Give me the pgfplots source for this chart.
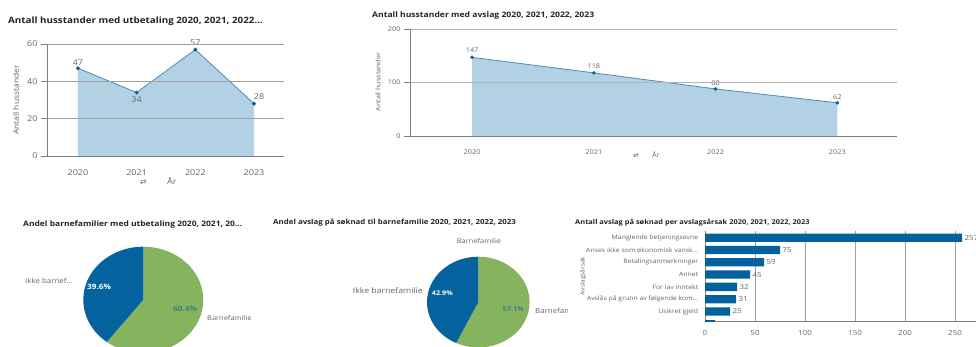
\documentclass[border=0pt]{standalone}
\usepackage{pgfplots}
\pgfplotsset{compat=1.18}
\usepackage{fontspec}
\setmainfont{Open Sans}[FakeStretch=1.13]
\newfontfamily\symfont{DejaVu Sans}[FakeStretch=1.13]
\newcommand\fs[1]{\fontsize{#1}{#1}\selectfont}
\definecolor{fillb}{HTML}{B3D1E4}
\definecolor{lineb}{HTML}{4A8DB8}
\definecolor{markb}{HTML}{135C8E}
\definecolor{pieblue}{HTML}{04629F}
\definecolor{piegreen}{HTML}{86B45E}
\definecolor{barblue}{HTML}{03629C}
\definecolor{txt}{HTML}{666666}
\definecolor{ttl}{HTML}{252423}
\definecolor{gridc}{HTML}{A0A0A0}
\definecolor{axc}{HTML}{808080}
\definecolor{tealt}{HTML}{3A7F86}
\pgfplotsset{
  lineax/.style={scale only axis, anchor=south west, axis on top,
    axis x line*=bottom, axis y line*=left,
    axis line style={draw=axc, -, line width=0.7pt},
    ymajorgrids, major grid style={draw=gridc, line width=0.6pt},
    xtick style={draw=none}, ytick style={draw=axc, line width=0.6pt},
    tick align=outside, major tick length=6pt,
    /pgf/number format/assume math mode=true, clip=false},
}
\begin{document}
\begin{tikzpicture}
\clip (0,0) rectangle (976pt,347pt);
\fill[white] (0,0) rectangle (976pt,347pt);

% ---------- Chart 1 ----------
\begin{axis}[lineax, at={(47pt,191pt)}, width=237pt, height=112pt,
  xmin=2019.472, xmax=2023.511, ymin=0, ymax=60,
  xtick={2020,2021,2022,2023}, xticklabels={2020,2021,2022,2023},
  ytick={0,20,40,60}, yticklabels={0,20,40,60},
  xticklabel style={font=\fs{8}, text=txt, anchor=base, yshift=-14pt},
  yticklabel style={font=\fs{8}, text=txt, anchor=east}]
\addplot[fill=fillb, draw=none] coordinates {(2020,47)(2021,34)(2022,57)(2023,28)} \closedcycle;
\addplot[lineb, line width=0.8pt, mark=*, mark size=1.5pt, mark options={fill=markb, draw=markb}]
  coordinates {(2020,47)(2021,34)(2022,57)(2023,28)};
\node[font=\fs{8}, text=txt, anchor=base, yshift=3.2pt] at (axis cs:2020,47) {47};
\node[font=\fs{8}, text=txt, anchor=base, yshift=-10.4pt] at (axis cs:2021,34) {34};
\node[font=\fs{8}, text=txt, anchor=base, yshift=3.7pt] at (axis cs:2022,57) {57};
\node[font=\fs{8}, text=txt, anchor=base, yshift=3.8pt, xshift=5pt] at (axis cs:2023,28) {28};
\end{axis}

% ---------- Chart 2 ----------
\begin{axis}[lineax, at={(410pt,211pt)}, width=487pt, height=107pt,
  xmin=2019.49, xmax=2023.49, ymin=0, ymax=200,
  major grid style={draw=gridc!80, line width=0.5pt},
  xtick={2020,2021,2022,2023}, xticklabels={2020,2021,2022,2023},
  ytick={0,100,200}, yticklabels={0,100,200},
  xticklabel style={font=\fs{6.5}, text=txt, anchor=base, yshift=-12.3pt},
  yticklabel style={font=\fs{6.5}, text=txt, anchor=east}]
\addplot[fill=fillb, draw=none] coordinates {(2020,147)(2021,118)(2022,88)(2023,62)} \closedcycle;
\addplot[lineb, line width=0.8pt, mark=*, mark size=1.4pt, mark options={fill=markb, draw=markb}]
  coordinates {(2020,147)(2021,118)(2022,88)(2023,62)};
\node[font=\fs{6.5}, text=txt, anchor=base, yshift=4.4pt] at (axis cs:2020,147) {147};
\node[font=\fs{6.5}, text=txt, anchor=base, yshift=4.6pt] at (axis cs:2021,118) {118};
\node[font=\fs{6.5}, text=txt, anchor=base, yshift=3.6pt] at (axis cs:2022,88) {88};
\node[font=\fs{6.5}, text=txt, anchor=base, yshift=3.5pt] at (axis cs:2023,62) {62};
\end{axis}

% ---------- Chart 5 (bars) ----------
\begin{axis}[scale only axis, anchor=south west, at={(705pt,25.3pt)},
  width=280pt, height=91pt, xmin=0, xmax=280, ymin=-0.57, ymax=6.83, y dir=reverse,
  xbar, bar width=8.3pt,
  axis x line*=bottom, axis y line*=left,
  axis line style={draw=axc, -, line width=0.7pt},
  xmajorgrids, major grid style={draw=gridc, line width=0.6pt},
  tick style={draw=none},
  xtick={0,50,100,150,200,250}, xticklabels={0,50,100,150,200,250},
  ytick={0,1,2,3,4,5,6},
  yticklabels={{Manglende betjeningsevne}, {Anses ikke som økonomisk vansk.{}.{}.}, {Betalingsanmerkninger}, {Annet}, {For lav inntekt}, {Avslås på grunn av følgende kom.{}.{}.}, {Usikret gjeld}},
  xticklabel style={font=\fs{7}, text=txt, anchor=base, yshift=-13.8pt},
  yticklabel style={font=\fs{6.1}, text=txt, anchor=east, xshift=1pt},
  /pgf/number format/assume math mode=true]
\addplot[fill=barblue, draw=none, bar shift=0pt, nodes near coords,
  nodes near coords style={font=\fs{7}, text=txt, anchor=west, xshift=-1pt}]
  coordinates {(257,0)(75,1)(59,2)(45,3)(32,4)(31,5)(25,6)};
\addplot[fill=barblue, draw=none, bar shift=0pt] coordinates {(10,7)};
\end{axis}

% ---------- Pie 1 ----------
\def\pieA{39.6}
\pgfmathsetmacro\angA{90+\pieA*3.6}
\begin{axis}[hide axis, scale only axis, anchor=south west, at={(83.3pt,-5.9pt)},
  width=120pt, height=106.2pt, xmin=-1, xmax=1, ymin=-1, ymax=1, clip=false]
\fill[piegreen] (axis cs:0,0) -- (axis cs:0,1) arc[start angle=90, end angle=\angA-360, x radius=60pt, y radius=53.1pt] -- cycle;
\fill[pieblue] (axis cs:0,0) -- (axis cs:0,1) arc[start angle=90, end angle=\angA, x radius=60pt, y radius=53.1pt] -- cycle;
\end{axis}

% ---------- Pie 2 ----------
\def\pieB{42.9}
\pgfmathsetmacro\angB{90+\pieB*3.6}
\begin{axis}[hide axis, scale only axis, anchor=south west, at={(427pt,-0.5pt)},
  width=102.6pt, height=90.8pt, xmin=-1, xmax=1, ymin=-1, ymax=1, clip=false]
\fill[piegreen] (axis cs:0,0) -- (axis cs:0,1) arc[start angle=90, end angle=\angB-360, x radius=51.3pt, y radius=45.4pt] -- cycle;
\fill[pieblue] (axis cs:0,0) -- (axis cs:0,1) arc[start angle=90, end angle=\angB, x radius=51.3pt, y radius=45.4pt] -- cycle;
\end{axis}

% ---------- Titles ----------
\node[anchor=base west, font=\fs{8.7}\bfseries, text=ttl, inner sep=0] at (8pt,323.5pt) {Antall husstander med utbetaling 2020, 2021, 2022...};
\node[anchor=base west, font=\fs{7.6}\bfseries, text=ttl, inner sep=0] at (372pt,329.3pt) {Antall husstander med avslag 2020, 2021, 2022, 2023};
\node[anchor=base west, font=\fs{7.5}\bfseries, text=ttl, inner sep=0] at (23pt,120.3pt) {Andel barnefamilier med utbetaling 2020, 2021, 20...};
\node[anchor=base west, font=\fs{7}\bfseries, text=ttl, inner sep=0] at (273pt,122pt) {Andel avslag på søknad til barnefamilie 2020, 2021, 2022, 2023};
\node[anchor=base west, font=\fs{6.6}\bfseries, text=ttl, inner sep=0] at (575pt,122pt) {Antall avslag på søknad per avslagsårsak 2020, 2021, 2022, 2023};

% ---------- Axis titles ----------
\node[rotate=90, font=\fs{7.5}, text=txt] at (16pt,247pt) {Antall husstander};
\node[anchor=base west, font=\fs{8}, text=txt, inner sep=0] at (167pt,162.4pt) {År};
\node[anchor=base west, font=\symfont\fs{7}, text=txt, inner sep=0] at (140pt,162.4pt) {⇄};
\node[rotate=90, font=\fs{6.3}, text=txt] at (378pt,265pt) {Antall husstander};
\node[anchor=base west, font=\fs{6.5}, text=txt, inner sep=0] at (652pt,189pt) {År};
\node[anchor=base west, font=\symfont\fs{6}, text=txt, inner sep=0] at (633pt,189pt) {⇄};
\node[rotate=90, font=\fs{5.7}, text=txt] at (583pt,71pt) {Avslagsårsak};

% ---------- Pie labels ----------
\node[anchor=base west, font=\fs{7}, text=txt, inner sep=0] at (25pt,63.7pt) {Ikke barnef...};
\node[anchor=base west, font=\fs{7.3}\bfseries, text=white, inner sep=0] at (87pt,57.6pt) {39.6\%};
\node[anchor=base west, font=\fs{7.3}\bfseries, text=tealt, inner sep=0] at (173pt,35.3pt) {60.4\%};
\node[anchor=base west, font=\fs{6.6}, text=txt, inner sep=0] at (207pt,26.7pt) {Barnefamilie};
\node[anchor=base west, font=\fs{6.6}, text=txt, inner sep=0] at (456.7pt,103.1pt) {Barnefamilie};
\node[anchor=base west, font=\fs{7.7}, text=txt, inner sep=0] at (352.7pt,53.7pt) {Ikke barnefamilie};
\node[anchor=base west, font=\fs{6.4}\bfseries, text=white, inner sep=0] at (431.7pt,51.4pt) {42.9\%};
\node[anchor=base west, font=\fs{6.4}\bfseries, text=tealt, inner sep=0] at (502.7pt,35.7pt) {57.1\%};
\begin{scope}
\clip (530pt,0pt) rectangle (567.5pt,60pt);
\node[anchor=base west, font=\fs{7}, text=txt, inner sep=0] at (535pt,33pt) {Barnefamilie};
\end{scope}
\end{tikzpicture}
\end{document}
